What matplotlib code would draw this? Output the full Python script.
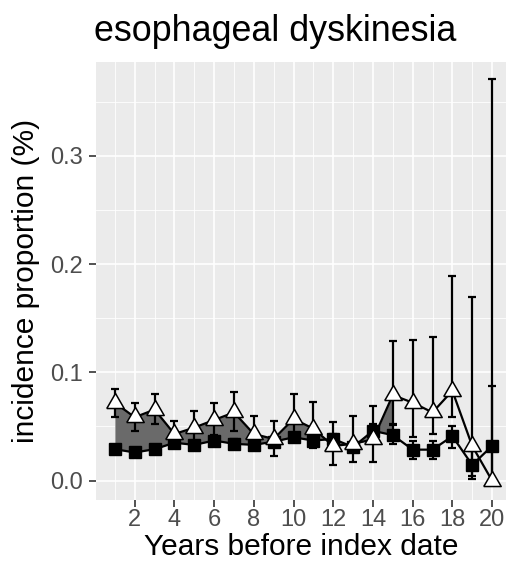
import numpy as np
import matplotlib
matplotlib.use("Agg")
import matplotlib.pyplot as plt
from matplotlib.ticker import MultipleLocator

plt.rcParams["font.family"] = ["Liberation Sans", "DejaVu Sans"]

# data
years = list(range(1, 21))
tri = [0.072, 0.0585, 0.0656, 0.043, 0.049, 0.056, 0.063, 0.043, 0.0385, 0.057,
       0.048, 0.032, 0.034, 0.038, 0.079, 0.072, 0.063, 0.083, 0.032, 0.000]
tri_hi = [0.085, 0.0714, 0.080, 0.055, 0.064, 0.072, 0.0816, 0.060, 0.055, 0.080,
          0.073, 0.054, 0.060, 0.069, 0.129, 0.130, 0.133, 0.189, 0.170, 0.371]
tri_lo = [0.059, 0.046, 0.052, 0.033, 0.036, 0.042, 0.046, 0.030, 0.023, 0.036,
          0.030, 0.014, 0.017, 0.0175, 0.051, 0.040, 0.043, 0.0585, 0.004, 0.000]
sq = [0.029, 0.026, 0.029, 0.035, 0.033, 0.037, 0.034, 0.033, 0.036, 0.040,
      0.037, 0.0385, 0.031, 0.046, 0.042, 0.0286, 0.0286, 0.041, 0.0145, 0.032]
sq_hi = [0.033, 0.030, 0.033, 0.039, 0.037, 0.041, 0.038, 0.037, 0.040, 0.044,
         0.041, 0.043, 0.036, 0.052, 0.052, 0.037, 0.037, 0.050, 0.027, 0.087]
sq_lo = [0.025, 0.022, 0.025, 0.031, 0.029, 0.033, 0.030, 0.029, 0.032, 0.036,
         0.033, 0.034, 0.026, 0.040, 0.034, 0.020, 0.020, 0.030, 0.0016, 0.000]
fill_until = 15

years = np.array(years)
tri, tri_hi, tri_lo = np.array(tri), np.array(tri_hi), np.array(tri_lo)
sq, sq_hi, sq_lo = np.array(sq), np.array(sq_hi), np.array(sq_lo)

fig = plt.figure(figsize=(5.08, 5.68), dpi=100)
ax = fig.add_axes([0.189, 0.1205, 0.807, 0.770])
ax.set_facecolor("#EBEBEB")

# shaded gap between the two series
m = years <= fill_until
ax.fill_between(years[m], sq[m], tri[m], color="#6a6a6a", lw=0, zorder=2)

# squares
ax.errorbar(years, sq, yerr=[sq - sq_lo, sq_hi - sq], fmt="none", ecolor="black",
            elinewidth=1.6, capsize=2.6, capthick=1.6, zorder=3)
ax.plot(years, sq, color="black", lw=1.6, marker="s", ms=8.4,
        mfc="black", mec="black", zorder=4)

# triangles
tri_marker = [(-1, -0.577), (1, -0.577), (0, 1.155), (-1, -0.577)]
ax.errorbar(years, tri, yerr=[tri - tri_lo, tri_hi - tri], fmt="none", ecolor="black",
            elinewidth=1.6, capsize=2.6, capthick=1.6, zorder=5)
ax.plot(years, tri, color="black", lw=1.6, marker=tri_marker, ms=14.5,
        mfc="white", mec="black", mew=1.1, zorder=6)

ax.set_xlim(0.05, 20.7)
ax.set_ylim(-0.0175, 0.3865)
ax.xaxis.set_minor_locator(MultipleLocator(1))
ax.yaxis.set_minor_locator(MultipleLocator(0.05))
ax.set_xticks(range(2, 21, 2))
ax.set_yticks([0.0, 0.1, 0.2, 0.3])
ax.set_yticklabels(["0.0", "0.1", "0.2", "0.3"])

ax.grid(which="major", color="white", lw=1.2, zorder=0)
ax.grid(which="minor", color="white", lw=0.6, zorder=0)
ax.set_axisbelow(True)
for s in ax.spines.values():
    s.set_visible(False)
ax.tick_params(which="major", length=5, width=1.2, color="#333333",
               labelcolor="#4d4d4d", labelsize=17)
ax.tick_params(axis="x", pad=2)
ax.tick_params(axis="y", pad=4.3)
ax.tick_params(which="minor", length=0)

ax.set_xlabel("Years before index date", fontsize=21.5, labelpad=1)
ax.set_ylabel("incidence proportion (%)", fontsize=21.5, labelpad=7.5)
ax.set_title("esophageal dyskinesia", fontsize=25.8, loc="left", pad=15, x=-0.005)

fig.savefig("out.png", dpi=100)
